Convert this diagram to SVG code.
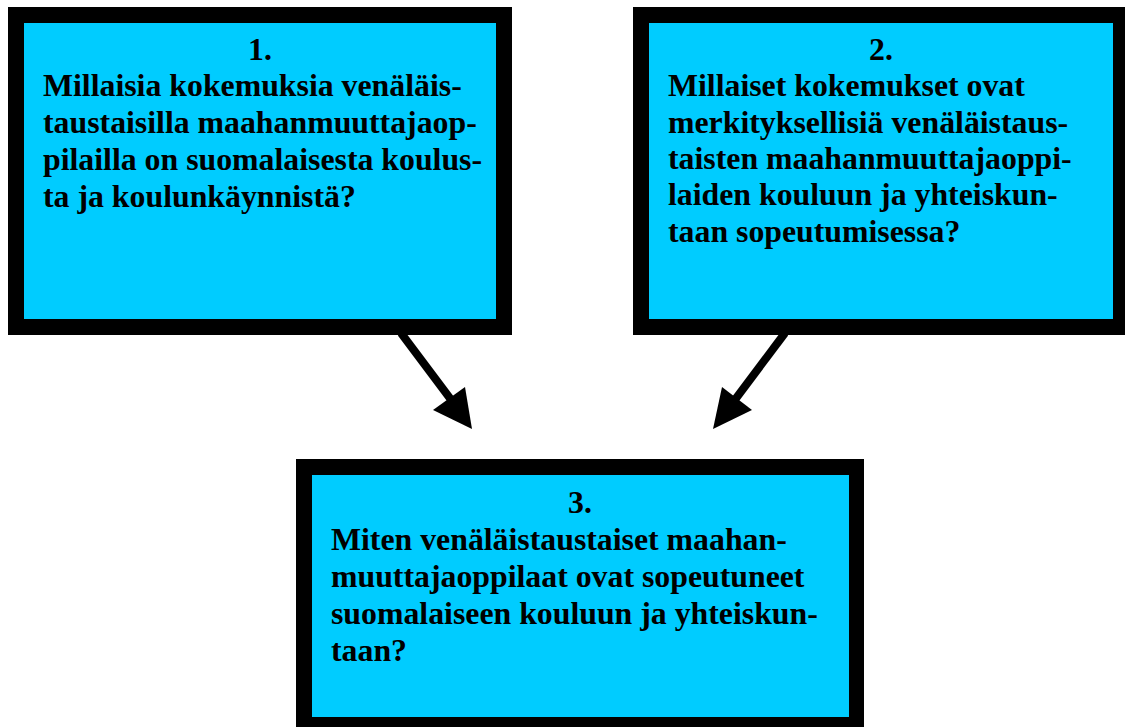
<svg xmlns="http://www.w3.org/2000/svg" width="1128" height="727" viewBox="0 0 1128 727">
  <style>
    .frame { fill: #000000; }
    .fill { fill: #00CCFF; }
    .t { font-family: "Liberation Serif", "Times New Roman", serif; font-weight: bold; font-size: 31.8px; fill: #000000; }
    .c { text-anchor: middle; }
    .conn line { stroke: #000000; stroke-width: 8; }
    .conn polygon { fill: #000000; }
  </style>
  <rect x="0" y="0" width="1128" height="727" fill="#ffffff"/>
  <g id="node1">
    <rect class="frame" x="8" y="7" width="504" height="328"/>
    <rect class="fill" x="24" y="23" width="472" height="296"/>
    <text class="t c" x="260" y="60">1.</text>
    <text class="t" x="43" y="96">Millaisia kokemuksia venäläis-</text>
    <text class="t" x="43" y="133">taustaisilla maahanmuuttajaop-</text>
    <text class="t" x="43" y="170">pilailla on suomalaisesta koulus-</text>
    <text class="t" x="43" y="207">ta ja koulunkäynnistä?</text>
  </g>
  <g id="node2">
    <rect class="frame" x="633" y="7" width="492" height="328"/>
    <rect class="fill" x="649" y="23" width="464" height="296"/>
    <text class="t c" x="881" y="60">2.</text>
    <text class="t" x="668" y="96">Millaiset kokemukset ovat</text>
    <text class="t" x="668" y="133">merkityksellisiä venäläistaus-</text>
    <text class="t" x="668" y="169">taisten maahanmuuttajaoppi-</text>
    <text class="t" x="668" y="205">laiden kouluun ja yhteiskun-</text>
    <text class="t" x="668" y="242">taan sopeutumisessa?</text>
  </g>
  <g id="node3">
    <rect class="frame" x="296" y="459" width="568" height="280"/>
    <rect class="fill" x="312" y="475" width="537" height="242"/>
    <text class="t c" x="580" y="513">3.</text>
    <text class="t" x="331" y="550">Miten venäläistaustaiset maahan-</text>
    <text class="t" x="331" y="587">muuttajaoppilaat ovat sopeutuneet</text>
    <text class="t" x="331" y="624">suomalaiseen kouluun ja yhteiskun-</text>
    <text class="t" x="331" y="661">taan?</text>
  </g>
  <g id="connectors" class="conn">
    <line x1="401" y1="333" x2="452" y2="401"/>
    <polygon points="472,429 433,410 465,387"/>
    <line x1="785" y1="333" x2="734" y2="401"/>
    <polygon points="713,429 722,387 752,410"/>
  </g>
</svg>
